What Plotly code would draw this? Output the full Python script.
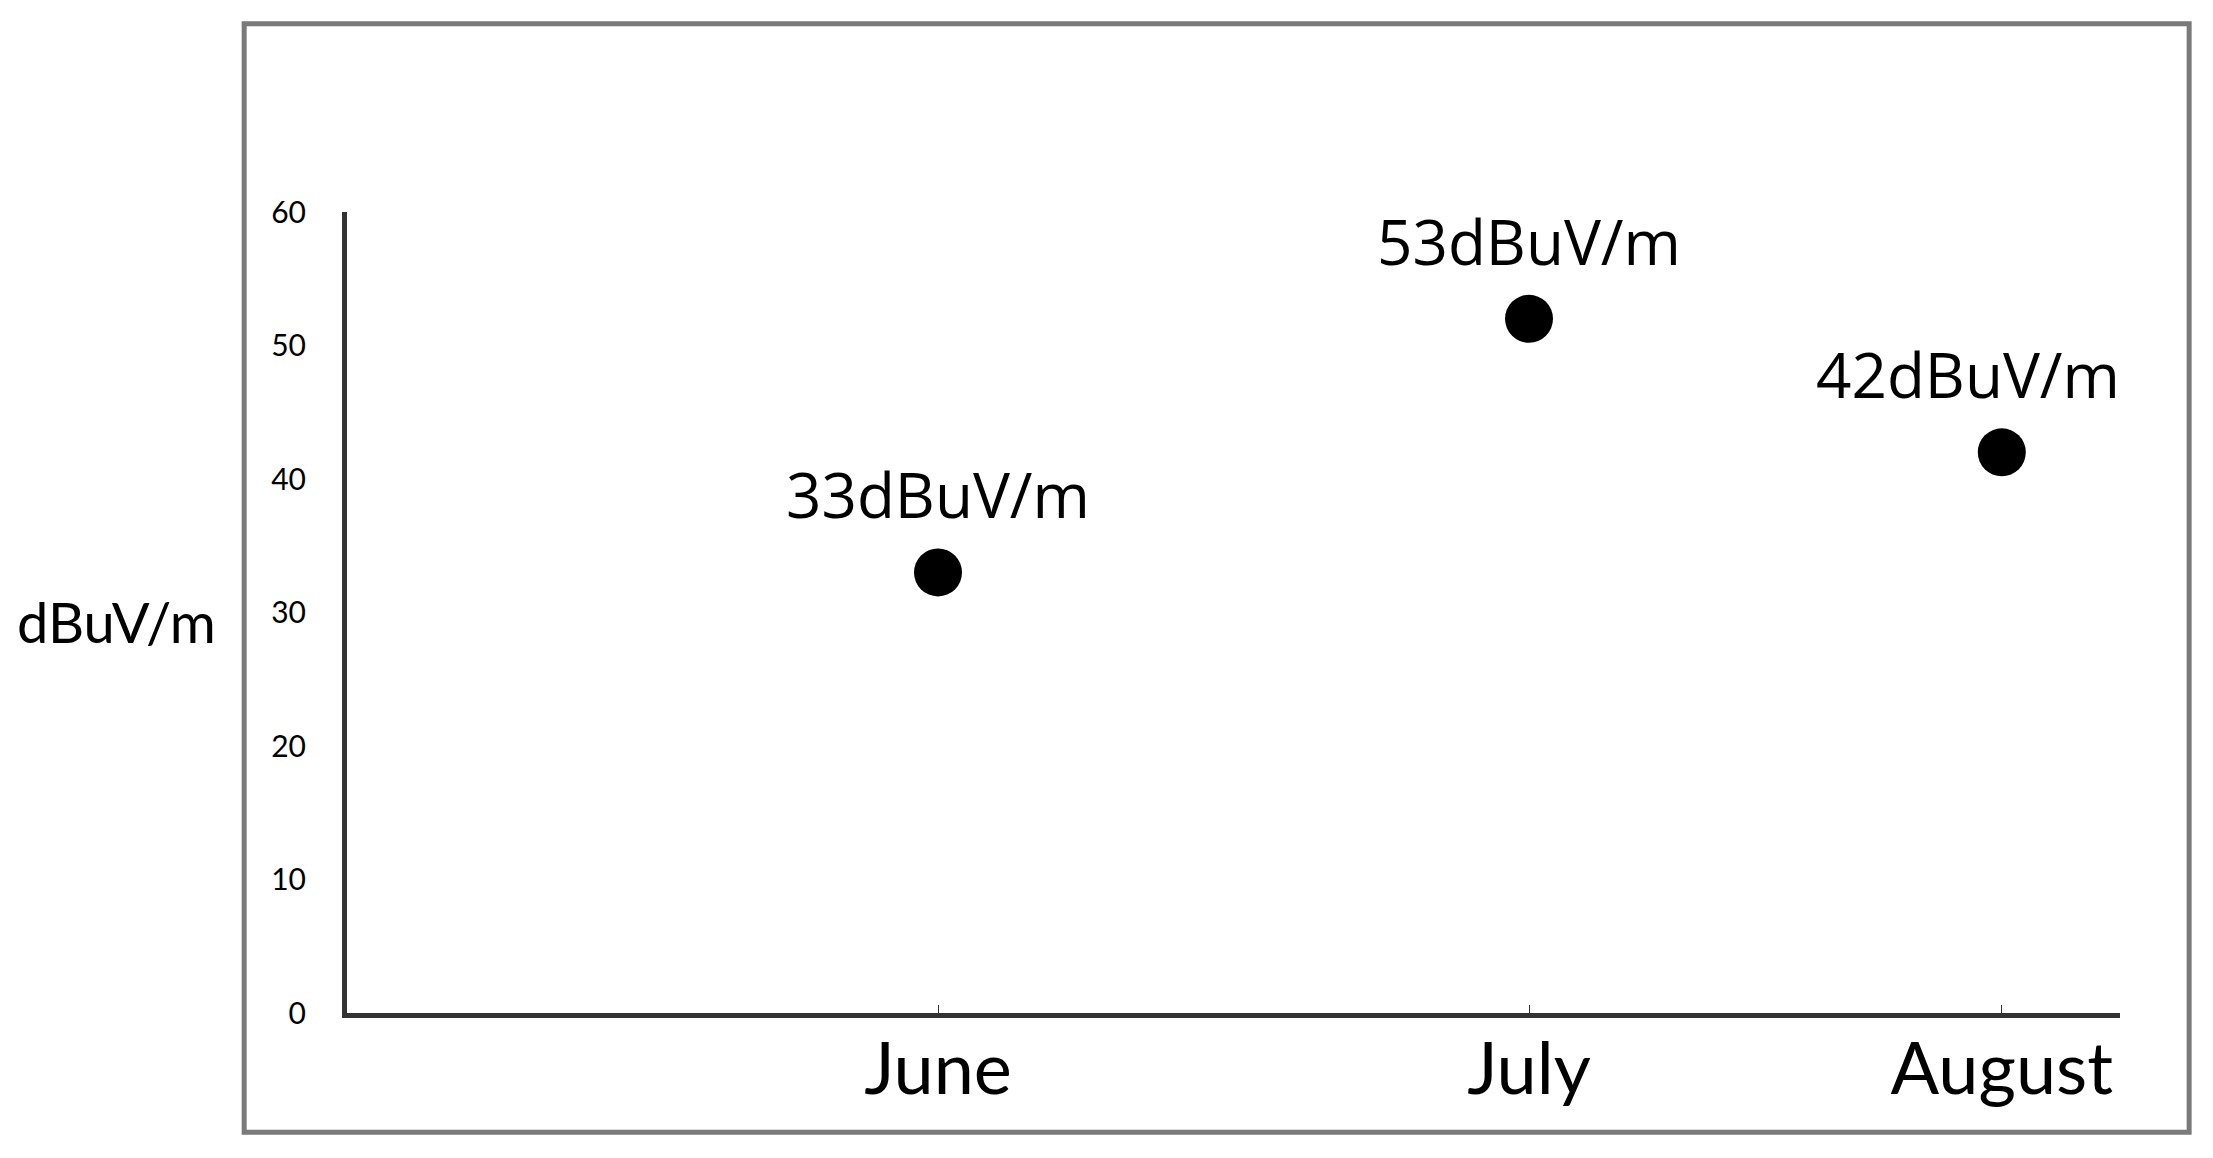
import plotly.graph_objects as go

# Monthly field-strength readings
months = ["June", "July", "August"]
month_positions = [1, 2, 2.8]
readings = [33, 52, 42]
point_labels = ["33dBuV/m", "53dBuV/m", "42dBuV/m"]
label_shift = [0, 0, -34]
y_ticks = [0, 10, 20, 30, 40, 50, 60]

fig = go.Figure()
fig.add_trace(
    go.Scatter(
        x=month_positions,
        y=readings,
        mode="markers",
        marker=dict(size=48, color="black"),
        showlegend=False,
        hoverinfo="skip",
    )
)

for xp, yv, txt, dx in zip(month_positions, readings, point_labels, label_shift):
    fig.add_annotation(
        x=xp,
        y=yv,
        text=txt,
        showarrow=False,
        xanchor="center",
        yanchor="bottom",
        xshift=dx,
        yshift=34,
        font=dict(family="Open Sans", size=62, color="black"),
    )

# axis title placed by hand, as in the source picture
fig.add_annotation(
    text="dBuV/m",
    xref="paper",
    yref="paper",
    x=-0.13,
    y=0.489,
    xanchor="center",
    yanchor="middle",
    showarrow=False,
    font=dict(family="Lato", size=56, color="black"),
)

# outer frame
fig.add_shape(
    type="rect",
    xref="paper",
    yref="paper",
    x0=-0.058,
    x1=1.039,
    y0=-0.149,
    y1=1.235,
    line=dict(color="#7a7a7a", width=5),
    layer="below",
)

# page body has an 8px margin, so the figure is 8px smaller each way
fig.update_layout(
    width=2205,
    height=1150,
    margin=dict(l=339, r=93, t=204, b=145),
    paper_bgcolor="white",
    plot_bgcolor="white",
    xaxis=dict(
        range=[0, 3],
        tickvals=month_positions,
        ticktext=months,
        showgrid=False,
        zeroline=False,
        showline=True,
        linecolor="#333333",
        linewidth=5,
        ticks="inside",
        ticklen=8,
        tickcolor="#333333",
        ticklabelstandoff=-10,
        tickfont=dict(family="Lato", size=72, color="black"),
    ),
    yaxis=dict(
        range=[0, 60],
        tickvals=y_ticks,
        showgrid=False,
        zeroline=False,
        showline=True,
        linecolor="#333333",
        linewidth=5,
        ticks="",
        ticklabelstandoff=30,
        tickfont=dict(family="Lato", size=30, color="black"),
    ),
)

fig.write_html("out.html")
